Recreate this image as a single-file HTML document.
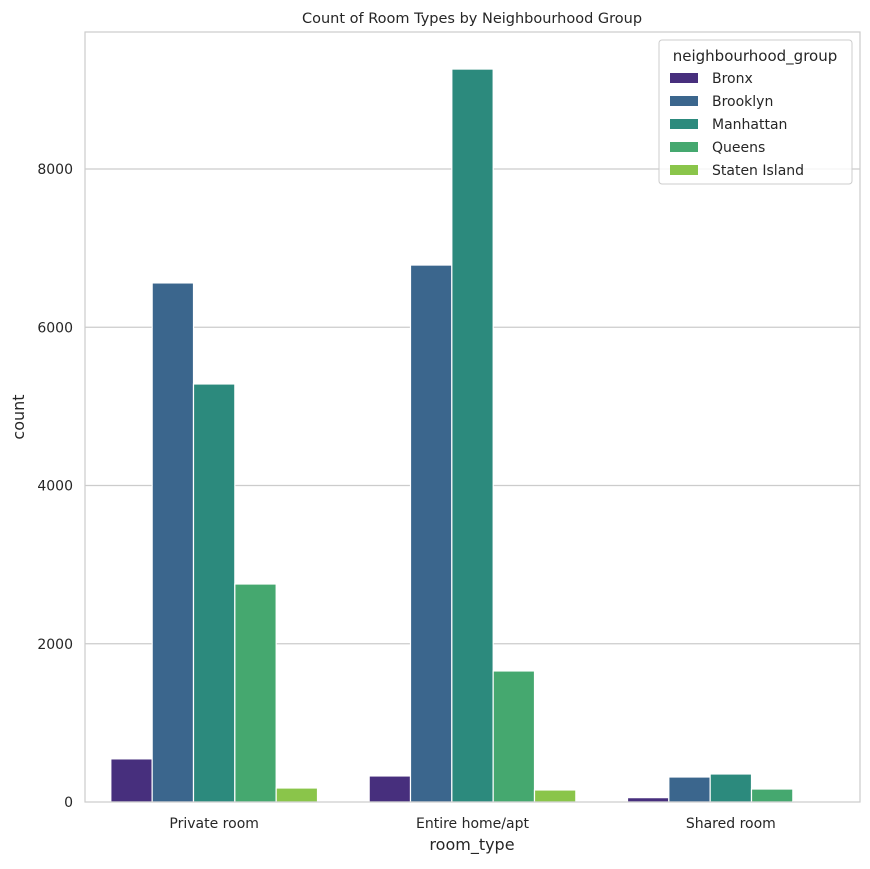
<!DOCTYPE html>
<html><head><meta charset="utf-8"><style>
body{margin:0;background:#fff;font-family:"Liberation Sans","DejaVu Sans",sans-serif;}
svg text{font-family:"DejaVu Sans","Liberation Sans",sans-serif;fill:#262626;}
</style></head><body>
<svg id="chart" width="870" height="864" xmlns="http://www.w3.org/2000/svg">
<rect width="870" height="864" fill="#fff"/>
<g id="grid"></g>
<g id="bars"></g>
<rect x="85" y="32" width="775" height="770" fill="none" stroke="#cccccc" stroke-width="1.2"/>
<g id="ticks"></g>
<text x="472" y="23" text-anchor="middle" font-size="14.5">Count of Room Types by Neighbourhood Group</text>
<text x="472" y="850" text-anchor="middle" font-size="16">room_type</text>
<text transform="translate(24,417) rotate(-90)" text-anchor="middle" font-size="16">count</text>
<g id="legend"></g>
</svg>
<script>
const categories=["Private room","Entire home/apt","Shared room"];
const groups=["Bronx","Brooklyn","Manhattan","Queens","Staten Island"];
const colors=["#472f7d","#3b668d","#2c8a7d","#45a86f","#8ac54a"];
const bronx=[545,329,55];
const brooklyn=[6560,6786,316];
const manhattan=[5283,9263,354];
const queens=[2755,1656,164];
const statenIsland=[177,152,7];
const yTicks=[0,2000,4000,6000,8000];
const series=[bronx,brooklyn,manhattan,queens,statenIsland];
const NS="http://www.w3.org/2000/svg";
const L=85,R=860,T=32,B=802;
const y=v=>B-v*(B-169)/8000;
const band=(R-L)/categories.length;
const bw=band*0.8/groups.length;
function mk(t,a,p){const e=document.createElementNS(NS,t);for(const k in a)e.setAttribute(k,a[k]);p.appendChild(e);return e;}
const grid=document.getElementById('grid'),ticks=document.getElementById('ticks'),bars=document.getElementById('bars'),leg=document.getElementById('legend');
yTicks.forEach(v=>{
 if(v>0){const g=mk('line',{x1:L,x2:R,y1:y(v),y2:y(v),stroke:'#cccccc','stroke-width':1.2},grid);
 
 }
 const t=mk('text',{x:L-12,y:y(v)+5,'text-anchor':'end','font-size':14},ticks);t.textContent=v;
 
 
});
categories.forEach((c,i)=>{
 const cx=L+band*(i+0.5);
 const t=mk('text',{x:cx,y:828,'text-anchor':'middle','font-size':14},ticks);t.textContent=c;
 
 
 series.forEach((s,j)=>{
  const x0=cx-band*0.4+j*bw;
  const r=mk('rect',{x:x0,y:y(s[i]),width:bw,height:B-y(s[i]),fill:colors[j],stroke:'#fff','stroke-width':1.2},bars);
  
  
 });
});
const lb=mk('rect',{x:659,y:40,width:193,height:144,rx:3,fill:'#fff',stroke:'#cccccc','fill-opacity':0.8},leg);


const lt=mk('text',{x:755,y:61,'text-anchor':'middle','font-size':15},leg);lt.textContent='neighbourhood_group';


groups.forEach((g,j)=>{
 const yy=78+j*23;
 const sw=mk('rect',{x:670,y:yy-5,width:28,height:10,fill:colors[j]},leg);
 
 
 const tx=mk('text',{x:712,y:yy+5,'font-size':14},leg);tx.textContent=g;
 
 
});
</script>
</body></html>
